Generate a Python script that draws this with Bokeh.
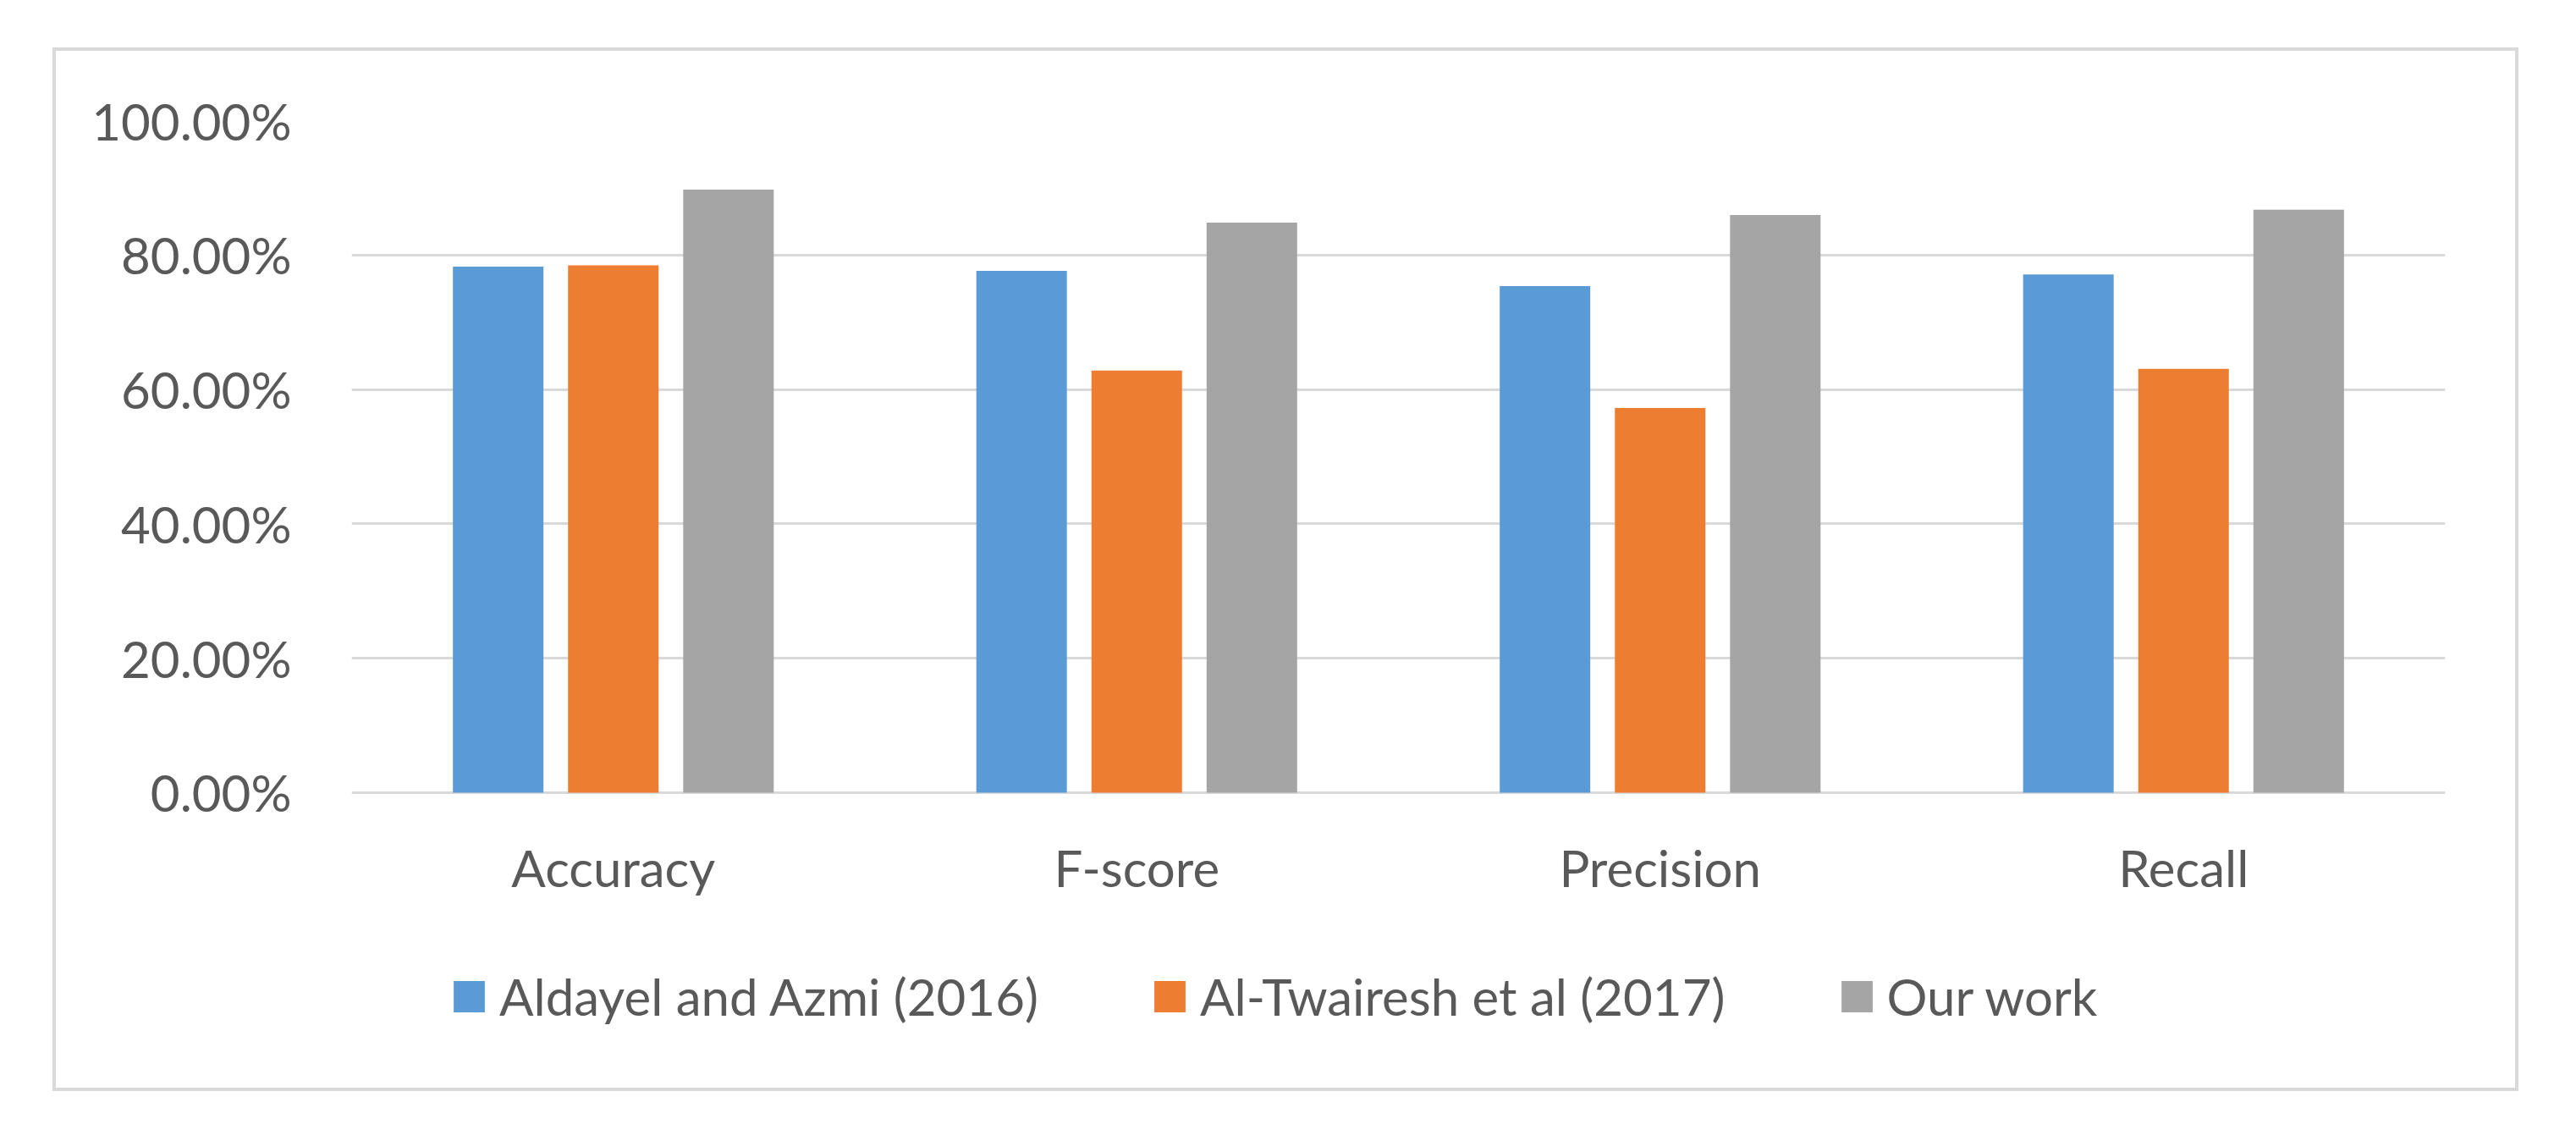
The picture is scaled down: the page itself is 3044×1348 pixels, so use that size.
from bokeh.plotting import figure
from bokeh.models import (FactorRange, Range1d, FixedTicker, NumeralTickFormatter,
                          ColumnDataSource, Legend, LegendItem)
from bokeh.core.properties import value
from bokeh.transform import dodge
from bokeh.embed import file_html
from bokeh.resources import INLINE

categories = ["Accuracy", "F-score", "Precision", "Recall"]
series_names = ["Aldayel and Azmi (2016)", "Al-Twairesh et al (2017)", "Our work"]
aldayel = [0.7827, 0.7763, 0.7538, 0.7712]
twairesh = [0.7846, 0.6282, 0.5724, 0.6308]
ours = [0.8974, 0.8481, 0.8596, 0.8673]
y_ticks = [0.0, 0.2, 0.4, 0.6, 0.8, 1.0]
colors = ["#5b9bd5", "#ed7d31", "#a5a5a5"]

FONT = "Lato"
TXT = "#595959"

source = ColumnDataSource(dict(cat=categories, a=aldayel, b=twairesh, c=ours))

# frame extends below zero so the legend can sit inside it (legends are clipped to the frame)
p = figure(x_range=FactorRange(factors=categories, range_padding=0),
           y_range=Range1d(-0.4295, 1.0),
           width=2914, height=1233,
           output_backend="svg", toolbar_location=None,
           min_border_left=349, min_border_right=91,
           min_border_top=82, min_border_bottom=16)
p.margin = (56, 0, 0, 62)
p.styles = {"border": "4px solid #d9d9d9"}
p.outline_line_color = None
p.background_fill_color = "white"
p.border_fill_color = "white"

offsets = [-0.22, 0.0, 0.22]
fields = ["a", "b", "c"]
renderers = []
for off, fld, col in zip(offsets, fields, colors):
    r = p.vbar(x=dodge("cat", off, range=p.x_range), top=fld, width=0.173,
               source=source, fill_color=col, line_color=None)
    renderers.append(r)

p.xgrid.grid_line_color = None
p.ygrid.ticker = FixedTicker(ticks=y_ticks)
p.ygrid.grid_line_color = "#d9d9d9"
p.ygrid.grid_line_width = 3
p.ygrid.level = "underlay"

p.yaxis.ticker = FixedTicker(ticks=y_ticks)
p.yaxis.formatter = NumeralTickFormatter(format="0.00%")
yax = p.yaxis[0]
yax.axis_line_color = None
yax.major_tick_line_color = None
yax.minor_tick_line_color = None
yax.major_label_text_font = FONT
yax.major_label_text_font_size = "60px"
yax.major_label_text_color = TXT
yax.major_label_standoff = 65

# category labels (x axis) drawn as text on the categorical scale
p.xaxis.visible = False
p.text(x=categories, y=-0.111, text=categories, text_align="center",
       text_baseline="alphabetic", text_font=value(FONT),
       text_font_size="60px", text_color=TXT)

legend = Legend(items=[LegendItem(label=n, renderers=[r]) for n, r in zip(series_names, renderers)],
                location=(116, 64), orientation="horizontal",
                padding=0, margin=0, spacing=132, border_line_color=None,
                background_fill_alpha=0,
                glyph_width=46, glyph_height=46, label_standoff=13,
                label_text_font=FONT, label_text_font_size="60px",
                label_text_color=TXT)
p.add_layout(legend, "center")

open("out.html", "w").write(file_html(p, INLINE))
